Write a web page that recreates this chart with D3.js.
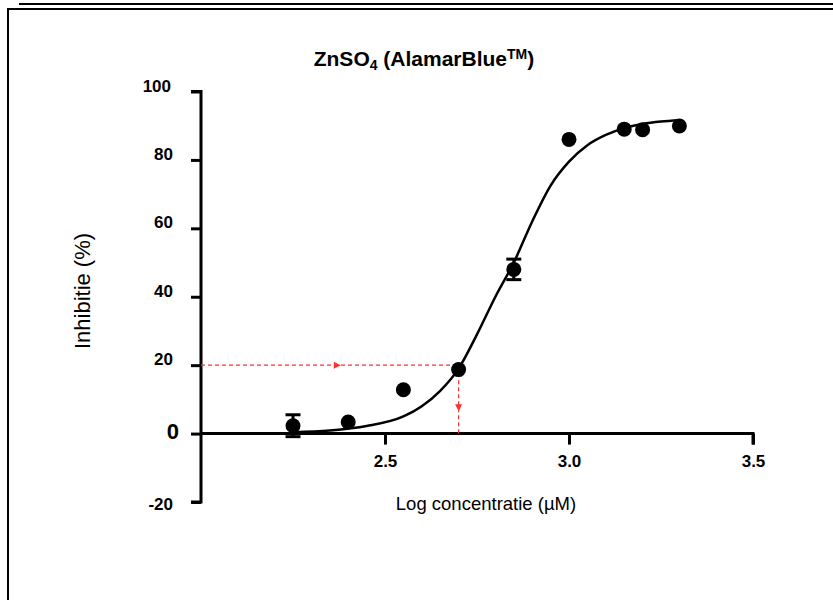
<!DOCTYPE html>
<html>
<head>
<meta charset="utf-8">
<script src="https://cdn.jsdelivr.net/npm/d3@7/dist/d3.min.js"></script>
<style>
  body { margin: 0; background: #fff; }
  svg { display: block; font-family: "Liberation Sans", Arial, sans-serif; }
</style>
</head>
<body>
<svg id="chart" width="833" height="600"></svg>
<script>
// ---- data ----
const logConc   = [2.25, 2.40, 2.55, 2.70, 2.85, 3.00, 3.15, 3.20, 3.30];
const inhibition = [2.3, 3.4, 12.8, 18.7, 48.0, 86.0, 89.0, 88.8, 89.9];
const errors     = [3.2, 0, 0, 0, 3.0, 0, 0, 0, 0];

const fitX = [2.25, 2.35, 2.45, 2.55, 2.60, 2.65, 2.70, 2.75, 2.80, 2.85, 2.90, 2.95, 3.00, 3.05, 3.10, 3.15, 3.20, 3.25, 3.30];
const fitY = [0.4, 0.9, 2.2, 5.0, 8.0, 12.5, 19.0, 29.0, 40.0, 50.0, 62.0, 72.5, 79.5, 84.3, 87.3, 89.3, 90.5, 91.2, 91.6];

const xTicks = [2.5, 3.0, 3.5];
const yTicks = [-20, 0, 20, 40, 60, 80, 100];

const ic20Y = 20;      // inhibition level marked
const ic20X = 2.70;    // corresponding log concentration

// ---- layout ----
const svg = d3.select("#chart");
const x = d3.scaleLinear().domain([2.0, 3.5]).range([201, 753]);
const y = d3.scaleLinear().domain([-20, 100]).range([502, 91.5]);

// frame lines
svg.append("line").attr("x1", 19).attr("x2", 833).attr("y1", 4).attr("y2", 4)
  .attr("stroke", "#000").attr("stroke-width", 2);
svg.append("path").attr("d", "M8,600 V9 H833")
  .attr("fill", "none").attr("stroke", "#000").attr("stroke-width", 2);

// title
const title = svg.append("text").attr("x", 424).attr("y", 66)
  .attr("text-anchor", "middle").attr("font-weight", "bold").attr("font-size", 21);
title.append("tspan").text("ZnSO");
title.append("tspan").attr("font-size", 14).attr("dy", 4).text("4");
title.append("tspan").attr("dy", -4).text(" (AlamarBlue");
title.append("tspan").attr("font-size", 14).attr("dy", -7).text("TM");
title.append("tspan").attr("dy", 7).text(")");

// y axis
const yAxis = d3.axisLeft(y).tickValues(yTicks).tickSize(10).tickFormat(d => String(d));
const gy = svg.append("g").attr("transform", `translate(${x(2.0)},0)`).call(yAxis);
gy.select(".domain").attr("stroke-width", 3).attr("d", `M-10,${y(100)}H0V${y(-20)}H-10`);
gy.selectAll(".tick line").attr("stroke-width", 3);
gy.selectAll(".tick text")
  .attr("font-family", "Liberation Sans, Arial, sans-serif")
  .attr("font-weight", "bold")
  .attr("font-size", d => d === 0 ? 22 : 17)
  .attr("fill", "#000")
  .attr("x", d => d === 0 ? -22 : (d === 100 ? -30 : -28))
  .attr("dy", null)
  .attr("y", d => d === 0 ? 5 : (d === -20 ? 7 : -0.5));

// x axis at y=0
const xAxis = d3.axisBottom(x).tickValues(xTicks).tickSize(11).tickFormat(d3.format(".1f"));
const gx = svg.append("g").attr("transform", `translate(0,${y(0)})`).call(xAxis);
gx.select(".domain").attr("stroke-width", 3).attr("d", `M${x(2.0)},0H${x(3.5)}V11`);
gx.selectAll(".tick line").attr("stroke-width", 3);
gx.selectAll(".tick text")
  .attr("font-family", "Liberation Sans, Arial, sans-serif")
  .attr("font-weight", "bold").attr("font-size", 17).attr("fill", "#000")
  .attr("dy", null).attr("y", 33);

// axis labels
svg.append("text").attr("x", 486).attr("y", 510).attr("text-anchor", "middle")
  .attr("font-size", 18.5).text("Log concentratie (µM)");
svg.append("text").attr("transform", "translate(90,291) rotate(-90)")
  .attr("text-anchor", "middle").attr("font-size", 22).text("Inhibitie (%)");

// red dashed guide lines
const red = "#ff3030";
svg.append("line").attr("x1", x(2.0)).attr("x2", x(ic20X)).attr("y1", y(ic20Y)).attr("y2", y(ic20Y))
  .attr("stroke", red).attr("stroke-width", 1.2).attr("stroke-dasharray", "4,3");
svg.append("line").attr("x1", x(ic20X)).attr("x2", x(ic20X)).attr("y1", y(ic20Y) + 8).attr("y2", y(-0.8))
  .attr("stroke", red).attr("stroke-width", 1.2).attr("stroke-dasharray", "4,3");
// arrowheads
const hx = x(2.38), hy = y(ic20Y);
svg.append("path").attr("d", `M${hx - 7},${hy - 3.5}L${hx},${hy}L${hx - 7},${hy + 3.5}Z`).attr("fill", red);
const vx = x(ic20X), vy = y(6.5);
svg.append("path").attr("d", `M${vx - 3.5},${vy - 7}L${vx},${vy}L${vx + 3.5},${vy - 7}Z`).attr("fill", red);

// fitted curve
const line = d3.line().x((d, i) => x(fitX[i])).y(d => y(d)).curve(d3.curveMonotoneX);
svg.append("path").datum(fitY).attr("d", line)
  .attr("fill", "none").attr("stroke", "#000").attr("stroke-width", 2.5);

// error bars
const pts = logConc.map((v, i) => ({ x: v, y: inhibition[i], e: errors[i] }));
const eb = svg.append("g").selectAll("g").data(pts.filter(d => d.e > 0)).join("g");
eb.append("line").attr("x1", d => x(d.x)).attr("x2", d => x(d.x))
  .attr("y1", d => y(d.y + d.e)).attr("y2", d => y(d.y - d.e))
  .attr("stroke", "#000").attr("stroke-width", 3);
eb.append("line").attr("x1", d => x(d.x) - 7.5).attr("x2", d => x(d.x) + 7.5)
  .attr("y1", d => y(d.y + d.e)).attr("y2", d => y(d.y + d.e))
  .attr("stroke", "#000").attr("stroke-width", 3);
eb.append("line").attr("x1", d => x(d.x) - 7.5).attr("x2", d => x(d.x) + 7.5)
  .attr("y1", d => y(d.y - d.e)).attr("y2", d => y(d.y - d.e))
  .attr("stroke", "#000").attr("stroke-width", 3);

// points
svg.append("g").selectAll("circle").data(pts).join("circle")
  .attr("cx", d => x(d.x)).attr("cy", d => y(d.y)).attr("r", 7.5).attr("fill", "#000");
</script>
</body>
</html>
